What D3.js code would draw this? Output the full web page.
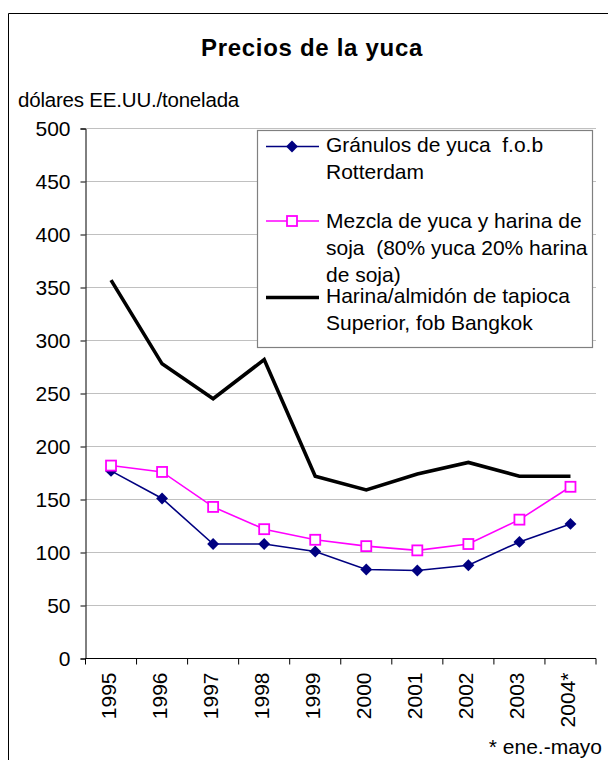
<!DOCTYPE html>
<html>
<head>
<meta charset="utf-8">
<script src="https://cdn.jsdelivr.net/npm/d3@7"></script>
<style>
  body { margin: 0; background: #fff; }
  text { font-family: "Liberation Sans", Arial, sans-serif; fill: #000; }
</style>
</head>
<body>
<svg id="chart" width="608" height="760"></svg>
<script>
// chart values
const years = ["1995", "1996", "1997", "1998", "1999", "2000", "2001", "2002", "2003", "2004*"];
const granulos = [177, 151, 108, 108, 101, 84, 83, 88, 110, 127];
const mezcla = [182, 176, 143, 122, 112, 106, 102, 108, 131, 162];
const harina = [357, 278, 245, 282, 172, 159, 174, 185, 172, 172];
const yTicks = [0, 50, 100, 150, 200, 250, 300, 350, 400, 450, 500];

const seriesNames = [
  ["Gránulos de yuca  f.o.b", "Rotterdam"],
  ["Mezcla de yuca y harina de", "soja  (80% yuca 20% harina", "de soja)"],
  ["Harina/almidón de tapioca", "Superior, fob Bangkok"]
];

const svg = d3.select("#chart");

const margin = {top: 128.5, right: 12, bottom: 101.5, left: 85.5};
const width = +svg.attr("width");
const height = +svg.attr("height");
const innerWidth = width - margin.left - margin.right;
const innerHeight = height - margin.top - margin.bottom;

// outer frame (right and bottom edges fall outside the picture)
svg.append("path")
  .attr("d", `M8.5,${height} V13.5 H${width}`)
  .attr("fill", "none").attr("stroke", "#000").attr("stroke-width", 1);

svg.append("text")
  .attr("x", 312).attr("y", 56)
  .attr("text-anchor", "middle")
  .style("font-size", "24px").style("font-weight", "bold")
  .style("letter-spacing", "0.7px")
  .text("Precios de la yuca");

svg.append("text")
  .attr("x", 18).attr("y", 107)
  .style("font-size", "20.5px")
  .style("letter-spacing", "-0.2px")
  .text("dólares EE.UU./tonelada");

const g = svg.append("g")
  .attr("transform", `translate(${margin.left},${margin.top})`);

const x = d3.scaleBand().domain(years).range([0, innerWidth]).padding(0);
const y = d3.scaleLinear().domain([0, 500]).range([innerHeight, 0]);
const cx = d => x(d) + x.bandwidth() / 2;

// gridlines
g.append("g")
  .selectAll("line")
  .data(yTicks.filter(d => d > 0))
  .join("line")
  .attr("x1", 0).attr("x2", innerWidth)
  .attr("y1", d => y(d)).attr("y2", d => y(d))
  .attr("stroke", "#c0c0c0").attr("stroke-width", 1.2);

// y axis
const yAxis = d3.axisLeft(y).tickValues(yTicks).tickSize(5).tickPadding(10);
const yAxisG = g.append("g").call(yAxis);
yAxisG.select(".domain").attr("stroke", "#000");
yAxisG.selectAll("line").attr("stroke", "#000");
yAxisG.selectAll("text")
  .style("font-size", "21px");

// x axis: line plus ticks at band edges
const xG = g.append("g").attr("transform", `translate(0,${innerHeight})`);
xG.append("line")
  .attr("x1", 0).attr("x2", innerWidth)
  .attr("stroke", "#000");
const edges = years.map(d => x(d)).concat([x(years[years.length - 1]) + x.bandwidth()]);
xG.selectAll("line.tick")
  .data(edges)
  .join("line")
  .attr("class", "tick")
  .attr("x1", d => d).attr("x2", d => d)
  .attr("y1", 0).attr("y2", 6)
  .attr("stroke", "#000");
xG.selectAll("text.year")
  .data(years)
  .join("text")
  .attr("class", "year")
  .attr("text-anchor", "end")
  .attr("transform", d => `translate(${cx(d) + 5},14) rotate(-90)`)
  .style("font-size", "21px")
  .text(d => d);

const line = d3.line()
  .x((d, i) => cx(years[i]))
  .y(d => y(d));

// granulos
g.append("path")
  .datum(granulos)
  .attr("d", line)
  .attr("fill", "none").attr("stroke", "#000080").attr("stroke-width", 1.6);
g.selectAll("path.diamond")
  .data(granulos)
  .join("path")
  .attr("class", "diamond")
  .attr("d", d3.symbol(d3.symbolDiamond2, 90))
  .attr("transform", (d, i) => `translate(${cx(years[i])},${y(d)})`)
  .attr("fill", "#000080");

// mezcla
g.append("path")
  .datum(mezcla)
  .attr("d", line)
  .attr("fill", "none").attr("stroke", "#ff00ff").attr("stroke-width", 1.6);
g.selectAll("rect.sq")
  .data(mezcla)
  .join("rect")
  .attr("class", "sq")
  .attr("x", (d, i) => cx(years[i]) - 5)
  .attr("y", d => y(d) - 5)
  .attr("width", 10).attr("height", 10)
  .attr("fill", "#fff").attr("stroke", "#ff00ff").attr("stroke-width", 1.8);

// harina
g.append("path")
  .datum(harina)
  .attr("d", line)
  .attr("fill", "none").attr("stroke", "#000").attr("stroke-width", 3.6)
  .attr("stroke-linejoin", "miter");

// legend
const legend = svg.append("g");
legend.append("rect")
  .attr("x", 257.5).attr("y", 130.5)
  .attr("width", 335).attr("height", 217)
  .attr("fill", "#fff").attr("stroke", "#808080").attr("stroke-width", 1.2);

const legendY = [146.5, 221, 297.5];
const textTop = [152, 228, 303];
const lineGap = 27;

// legend symbols
legend.append("line")
  .attr("x1", 266).attr("x2", 319).attr("y1", legendY[0]).attr("y2", legendY[0])
  .attr("stroke", "#000080").attr("stroke-width", 1.6);
legend.append("path")
  .attr("d", d3.symbol(d3.symbolDiamond2, 90))
  .attr("transform", `translate(292,${legendY[0]})`)
  .attr("fill", "#000080");
legend.append("line")
  .attr("x1", 266).attr("x2", 319).attr("y1", legendY[1]).attr("y2", legendY[1])
  .attr("stroke", "#ff00ff").attr("stroke-width", 1.6);
legend.append("rect")
  .attr("x", 287).attr("y", legendY[1] - 5).attr("width", 10).attr("height", 10)
  .attr("fill", "#fff").attr("stroke", "#ff00ff").attr("stroke-width", 1.8);
legend.append("line")
  .attr("x1", 266).attr("x2", 319).attr("y1", legendY[2]).attr("y2", legendY[2])
  .attr("stroke", "#000").attr("stroke-width", 3.6);

seriesNames.forEach((lines, k) => {
  legend.append("g")
    .selectAll("text")
    .data(lines)
    .join("text")
    .attr("x", 326)
    .attr("y", (d, i) => textTop[k] + i * lineGap)
    .style("font-size", "21px")
    .style("white-space", "pre")
    .text(d => d);
});

svg.append("text")
  .attr("x", 602).attr("y", 754)
  .attr("text-anchor", "end")
  .style("font-size", "21px")
  .text("* ene.-mayo");
</script>
</body>
</html>
